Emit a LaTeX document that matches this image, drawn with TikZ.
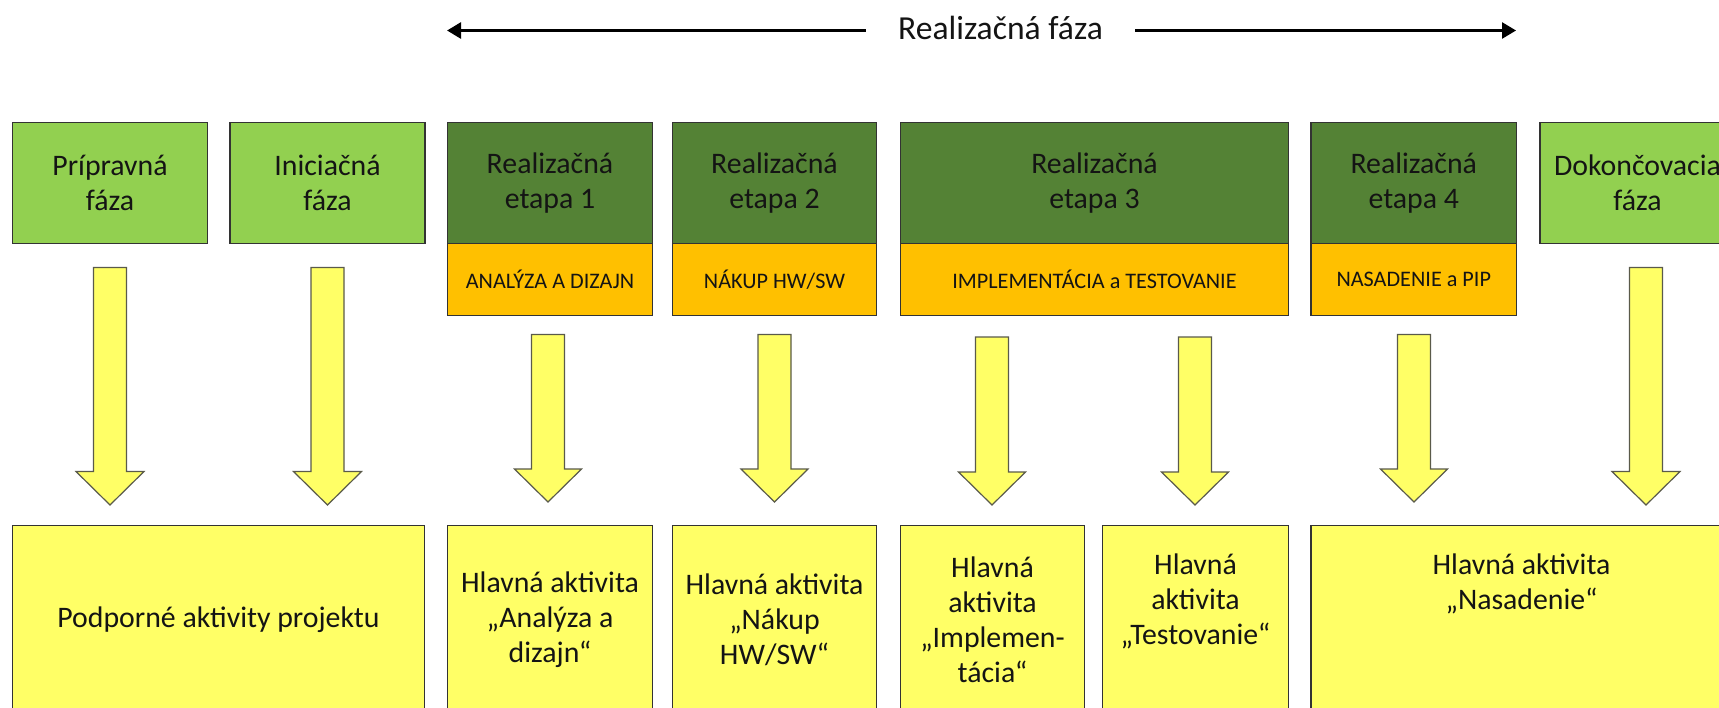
\documentclass[tikz,border=0pt]{standalone}
\usepackage{fontspec}
\setmainfont{Carlito}
\usetikzlibrary{arrows.meta}
\definecolor{lgreen}{HTML}{92D050}
\definecolor{dgreen}{HTML}{548235}
\definecolor{orng}{HTML}{FFC000}
\definecolor{ylw}{HTML}{FFFF66}
\definecolor{bord}{HTML}{333333}
\definecolor{txt}{HTML}{141414}
\definecolor{arrbord}{HTML}{5A5A4A}
\newcommand\yarrow[6]{\draw[barrow] (#1-#5,#2) -- (#1+#5,#2) -- (#1+#5,#3) -- (#1+#6,#3) -- (#1,#4) -- (#1-#6,#3) -- (#1-#5,#3) -- cycle;}
\begin{document}
\begin{tikzpicture}[x=0.5pt,y=-0.5pt,
  box/.style={draw=bord, line width=0.75pt, inner sep=0pt, align=center, text=txt, font=\fontsize{14.9}{17.5}\selectfont},
  phase/.style={box, fill=lgreen, minimum height=60.5pt},
  stage/.style={box, fill=dgreen, minimum height=60.5pt},
  task/.style={box, fill=orng, minimum height=36pt, font=\fontsize{11.1}{13}\selectfont},
  act/.style={box, fill=ylw, minimum height=94.25pt},
  barrow/.style={draw=arrbord, fill=ylw, line width=0.6pt, line join=miter},
  txtnode/.style={inner sep=0pt, align=center, text=txt, font=\fontsize{14.9}{17.5}\selectfont},
  headline/.style={line width=1.3pt, draw=black},
]
\useasboundingbox (0,0) rectangle (1719,707);
\fill[white] (0,0) rectangle (1719,707);
\clip (0,0) rectangle (1719,707);

% heading
\node[inner ysep=0pt, inner xsep=16pt, text=txt, font=\fontsize{16.8}{20}\selectfont] (rf) at (1000.5,28) {Realizačná fáza};
\coordinate (la) at (447,30.5);
\coordinate (ra) at (1516,30.5);
\draw[headline, -{Triangle[length=7pt,width=8pt]}] (rf.west |- la) -- (la);
\draw[headline, -{Triangle[length=7pt,width=8pt]}] (rf.east |- ra) -- (ra);

% top row
\node[phase, minimum width=97.5pt] (prip) at (110,183) {Prípravná\\fáza};
\node[phase, minimum width=97.5pt] (inic) at (327.5,183) {Iniciačná\\fáza};
\node[stage, minimum width=102.5pt] (e1) at (550,183) {Realizačná\\etapa 1};
\node[task, minimum width=102.5pt] (t1) at (550,279.5) {ANALÝZA A DIZAJN};
\node[stage, minimum width=102pt] (e2) at (774.5,183) {Realizačná\\etapa 2};
\node[task, minimum width=102pt] (t2) at (774.5,279.5) {NÁKUP HW/SW};
\node[stage, minimum width=194pt] (e3) at (1094.5,183) {Realizačná\\etapa 3};
\node[task, minimum width=194pt] (t3) at (1094.5,279.5) {IMPLEMENTÁCIA a TESTOVANIE};
\node[stage, minimum width=102.75pt] (e4) at (1413.75,183) {Realizačná\\etapa 4};
\node[task, minimum width=102.75pt] (t4) at (1413.75,279.5) {NASADENIE a PIP};
\node[phase, minimum width=97.5pt] (dok) at (1637.5,183) {Dokončovacia\\fáza};

% bottom row
\node[act, minimum width=206pt] (podp) at (218.5,619.75) {Podporné aktivity projektu};
\node[act, minimum width=102.5pt] (h1) at (550,619.75) {Hlavná aktivita\\„Analýza a\\dizajn“};
\node[act, minimum width=102pt] (h2) at (774.5,619.75) {Hlavná aktivita\\„Nákup\\HW/SW“};
\node[act, minimum width=92pt] (h3) at (992.5,619.75) {Hlavná\\aktivita\\„Implemen-\\tácia“};
\node[act, minimum width=93pt] (h4) at (1195.5,619.75) {};
\node[txtnode, anchor=north] (h4t) at ([yshift=-14.5pt]h4.north) {Hlavná\\aktivita\\„Testovanie“};
\node[act, minimum width=210.5pt] (h5) at (1521.5,619.75) {};
\node[txtnode, anchor=north] (h5t) at ([yshift=-14.5pt]h5.north) {Hlavná aktivita\\„Nasadenie“};

% block arrows
\yarrow{110}{267.5}{471.5}{505}{16.5}{34}
\yarrow{327.5}{267.5}{471.5}{505}{16.5}{34}
\yarrow{1646}{267.5}{471.5}{505}{16.5}{34}
\yarrow{548}{334.5}{469}{502}{16.5}{33.5}
\yarrow{774.5}{334.5}{469}{502}{16.5}{33.5}
\yarrow{992}{337}{472}{505}{16.5}{33.5}
\yarrow{1195}{337}{472}{505}{16.5}{33.5}
\yarrow{1414}{334.5}{469}{502}{16.5}{33.5}
\end{tikzpicture}
\end{document}
